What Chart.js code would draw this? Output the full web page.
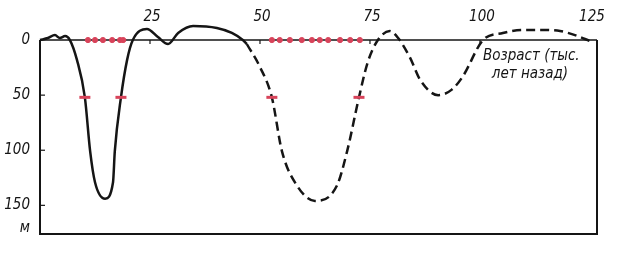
<!DOCTYPE html>
<html>
<head>
<meta charset="utf-8">
<script src="https://cdn.jsdelivr.net/npm/chart.js@4.4.1/dist/chart.umd.min.js"></script>
<style>
  html, body { margin: 0; background: #fff; }
</style>
</head>
<body>
<canvas id="chart" width="620" height="255"></canvas>
<script>
// age in thousand years ago, depth in m (positive = below present level)
const solidAge   = [0, 1.8, 3.4, 4.5, 5.7, 6.8, 8.4, 10.2, 11.4, 12.5, 14.8, 16.6, 17.0, 18.4, 19.8, 21.1, 24.3, 26.8, 29.1, 31.4, 34.8, 40.2, 43.6, 46.1, 47.0];
const solidDepth = [0, -1.8, -4.5, -1.8, -3.6, 0, 18, 52, 101, 129, 144, 129, 101, 52, 18, 0, -10, -2.7, 3.6, -6.4, -12.7, -10.9, -6.4, 0, 3.6];

const dashAge   = [47.0, 50.0, 52.7, 55.0, 58.4, 62.5, 67.5, 69.8, 72.5, 74.5, 76.8, 79.5, 81.4, 84.1, 86.4, 90.5, 93.6, 96.1, 100.7, 105.2, 109.8, 114.8, 118.2, 121.6, 125.0];
const dashDepth = [3.6, 24.5, 52, 101, 132, 146, 132, 101, 52, 20, 0, -8.2, -1.8, 16, 36, 50, 45, 33, 0, -6.4, -9.1, -9.1, -8.2, -4.5, 0.9];

// red dating marks
const marksZeroAge = [10.9, 12.5, 14.3, 16.4, 18.2, 18.9, 52.7, 54.5, 56.8, 59.5, 61.8, 63.6, 65.5, 68.2, 70.5, 72.7];
const marksMidAge = [10.2, 18.4, 52.7, 72.5];
const marksMidDepth = [52, 52, 52, 52];

const xTicks = [25, 50, 75, 100, 125];
const yTicks = [0, 50, 100, 150];
const yUnit = 171;
const axisTitle = ["Возраст (тыс.", "лет назад)"];

const ink = "#151515";
const red = "#d8435a";
const fontFamily = '"DejaVu Sans Condensed", "Liberation Sans Narrow", "DejaVu Sans", sans-serif';

const toXY = (xs, ys) => xs.map((x, i) => ({ x, y: ys[i] }));

const framePlugin = {
  id: "frame",
  beforeDatasetsDraw(chart) {
    const { ctx, scales: { x, y } } = chart;
    const x0 = x.getPixelForValue(0);
    const x1 = x.right;
    const y0 = y.getPixelForValue(0);
    const yb = y.bottom;
    ctx.save();
    ctx.strokeStyle = ink;
    ctx.lineWidth = 1.5;
    ctx.beginPath();
    ctx.moveTo(x0, y0); ctx.lineTo(x1, y0);
    ctx.stroke();
    ctx.lineWidth = 2;
    ctx.beginPath();
    ctx.moveTo(x0, y0); ctx.lineTo(x0, yb); ctx.lineTo(x1, yb); ctx.lineTo(x1, y0);
    ctx.stroke();
    // small ticks
    ctx.lineWidth = 1.2;
    xTicks.slice(0, -1).forEach(v => {
      const px = x.getPixelForValue(v);
      ctx.beginPath(); ctx.moveTo(px, y0); ctx.lineTo(px, y0 + 4); ctx.stroke();
    });
    yTicks.slice(1).forEach(v => {
      const py = y.getPixelForValue(v);
      ctx.beginPath(); ctx.moveTo(x0, py); ctx.lineTo(x0 + 5, py); ctx.stroke();
    });
    ctx.fillStyle = ink;
    ctx.font = "italic 15px " + fontFamily;
    // x tick labels above the chart
    ctx.textAlign = "center";
    ctx.textBaseline = "middle";
    x.ticks.forEach(t => {
      ctx.fillText(String(t.value), x.getPixelForValue(t.value) + 2, 17);
    });
    // axis title
    ctx.textAlign = "left";
    ctx.fillText(axisTitle[0], x.getPixelForValue(100.7), y.getPixelForValue(14.5));
    ctx.fillText(axisTitle[1], x.getPixelForValue(102.7), y.getPixelForValue(31));
    ctx.restore();
  }
};

new Chart(document.getElementById("chart"), {
  type: "line",
  data: {
    datasets: [
      {
        data: toXY(marksZeroAge, marksZeroAge.map(() => 0)),
        showLine: false,
        pointStyle: "circle",
        pointRadius: 2.6,
        backgroundColor: red,
        borderColor: red,
        borderWidth: 1
      },
      {
        data: toXY(marksMidAge, marksMidDepth),
        showLine: false,
        pointStyle: "line",
        pointRadius: 5.5,
        borderColor: red,
        borderWidth: 3
      },
      {
        data: toXY(solidAge, solidDepth),
        borderColor: ink,
        borderWidth: 2.5,
        cubicInterpolationMode: "monotone",
        pointRadius: 0,
        fill: false
      },
      {
        data: toXY(dashAge, dashDepth),
        borderColor: ink,
        borderWidth: 2.5,
        borderDash: [9, 5],
        cubicInterpolationMode: "monotone",
        pointRadius: 0,
        fill: false
      }
    ]
  },
  options: {
    responsive: false,
    animation: false,
    clip: false,
    layout: { padding: { left: 0, right: 23, top: 0, bottom: 21 } },
    plugins: { legend: { display: false }, tooltip: { enabled: false } },
    scales: {
      x: {
        type: "linear",
        position: "top",
        min: 0,
        max: 126.6,
        border: { display: false },
        grid: { display: false },
        afterFit: s => { s.height = 22.4; },
        afterBuildTicks: s => { s.ticks = xTicks.map(v => ({ value: v })); },
        ticks: { display: false }
      },
      y: {
        type: "linear",
        reverse: true,
        min: -16,
        max: 176,
        border: { display: false },
        grid: { display: false },
        afterFit: s => { s.width = 40; },
        afterBuildTicks: s => { s.ticks = yTicks.concat([yUnit]).map(v => ({ value: v })); },
        ticks: {
          padding: 2,
          color: ink,
          font: { family: fontFamily, size: 15, style: "italic" },
          callback: v => (v === yUnit ? "м" : v)
        }
      }
    }
  },
  plugins: [framePlugin]
});
</script>
</body>
</html>
